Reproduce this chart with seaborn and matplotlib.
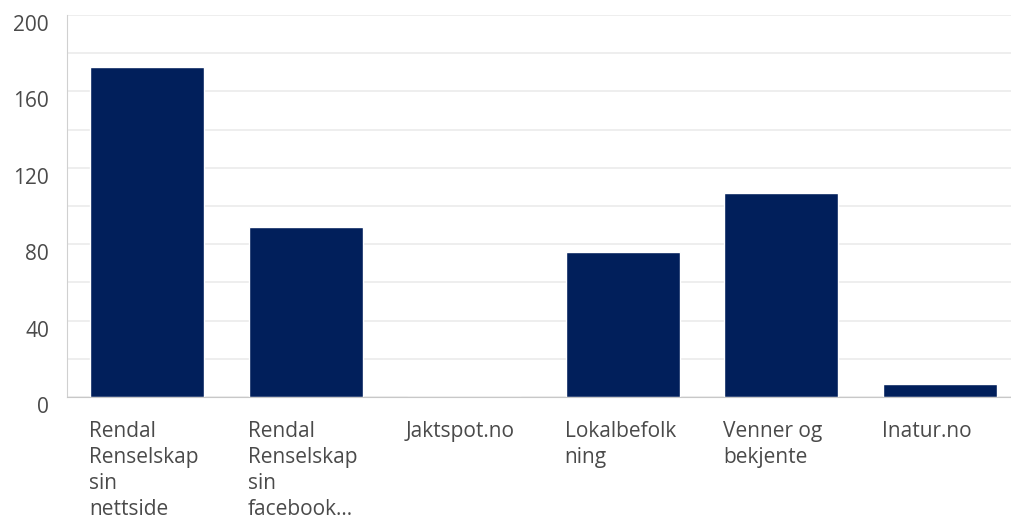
import matplotlib
matplotlib.use("Agg")
import matplotlib.pyplot as plt
import matplotlib.transforms as mtransforms
import pandas as pd
import seaborn as sns

# verdier lest av bildet
kategorier = [
    "Rendal Renselskap sin nettside",
    "Rendal Renselskap sin facebook...",
    "Jaktspot.no",
    "Lokalbefolkning",
    "Venner og bekjente",
    "Inatur.no",
]
antall = [173, 89, 0, 76, 107, 7]
etiketter = [
    "Rendal\nRenselskap\nsin\nnettside",
    "Rendal\nRenselskap\nsin\nfacebook...",
    "Jaktspot.no",
    "Lokalbefolk\nning",
    "Venner og\nbekjente",
    "Inatur.no",
]
y_ticks = [0, 40, 80, 120, 160, 200]

df = pd.DataFrame({"kilde": kategorier, "antall": antall})

sns.set_style("white")
plt.rcParams["font.family"] = ["Open Sans", "DejaVu Sans"]

fig = plt.figure(figsize=(10.11, 5.22), dpi=100)
ax = fig.add_axes([0.0663, 0.2395, 0.9337, 0.7318])

sns.barplot(data=df, x="kilde", y="antall", color="#011f5b", width=0.72,
            saturation=1, ax=ax)

ax.set_ylim(0, 200)
ax.set_xlim(-0.505, 5.45)
ax.set_yticks(y_ticks)
ax.set_yticks(range(20, 200, 40), minor=True)
ax.grid(axis="y", which="both", color="#ebebeb", linewidth=1.2)
ax.set_axisbelow(True)
ax.tick_params(axis="both", which="both", length=0)
ax.set_xlabel("")
ax.set_ylabel("")

for s in ["top", "right"]:
    ax.spines[s].set_visible(False)
ax.spines["left"].set_color("#d0d0d0")
ax.spines["bottom"].set_color("#c8c8c8")

ax.set_xticks(range(len(etiketter)))
ax.set_xticklabels(etiketter, ha="left", fontsize=15, color="#4a4a4a",
                   linespacing=1.32)
ax.tick_params(axis="x", pad=17)
dx = mtransforms.ScaledTranslation(-58 / 100, 0, fig.dpi_scale_trans)
for lab in ax.get_xticklabels():
    lab.set_transform(lab.get_transform() + dx)

ax.set_yticklabels([str(v) for v in y_ticks], fontsize=15, color="#4a4a4a")
ax.tick_params(axis="y", pad=13)
dy = mtransforms.ScaledTranslation(0, -8 / 100, fig.dpi_scale_trans)
for lab in ax.get_yticklabels():
    lab.set_transform(lab.get_transform() + dy)

fig.savefig("out.png", dpi=100)
